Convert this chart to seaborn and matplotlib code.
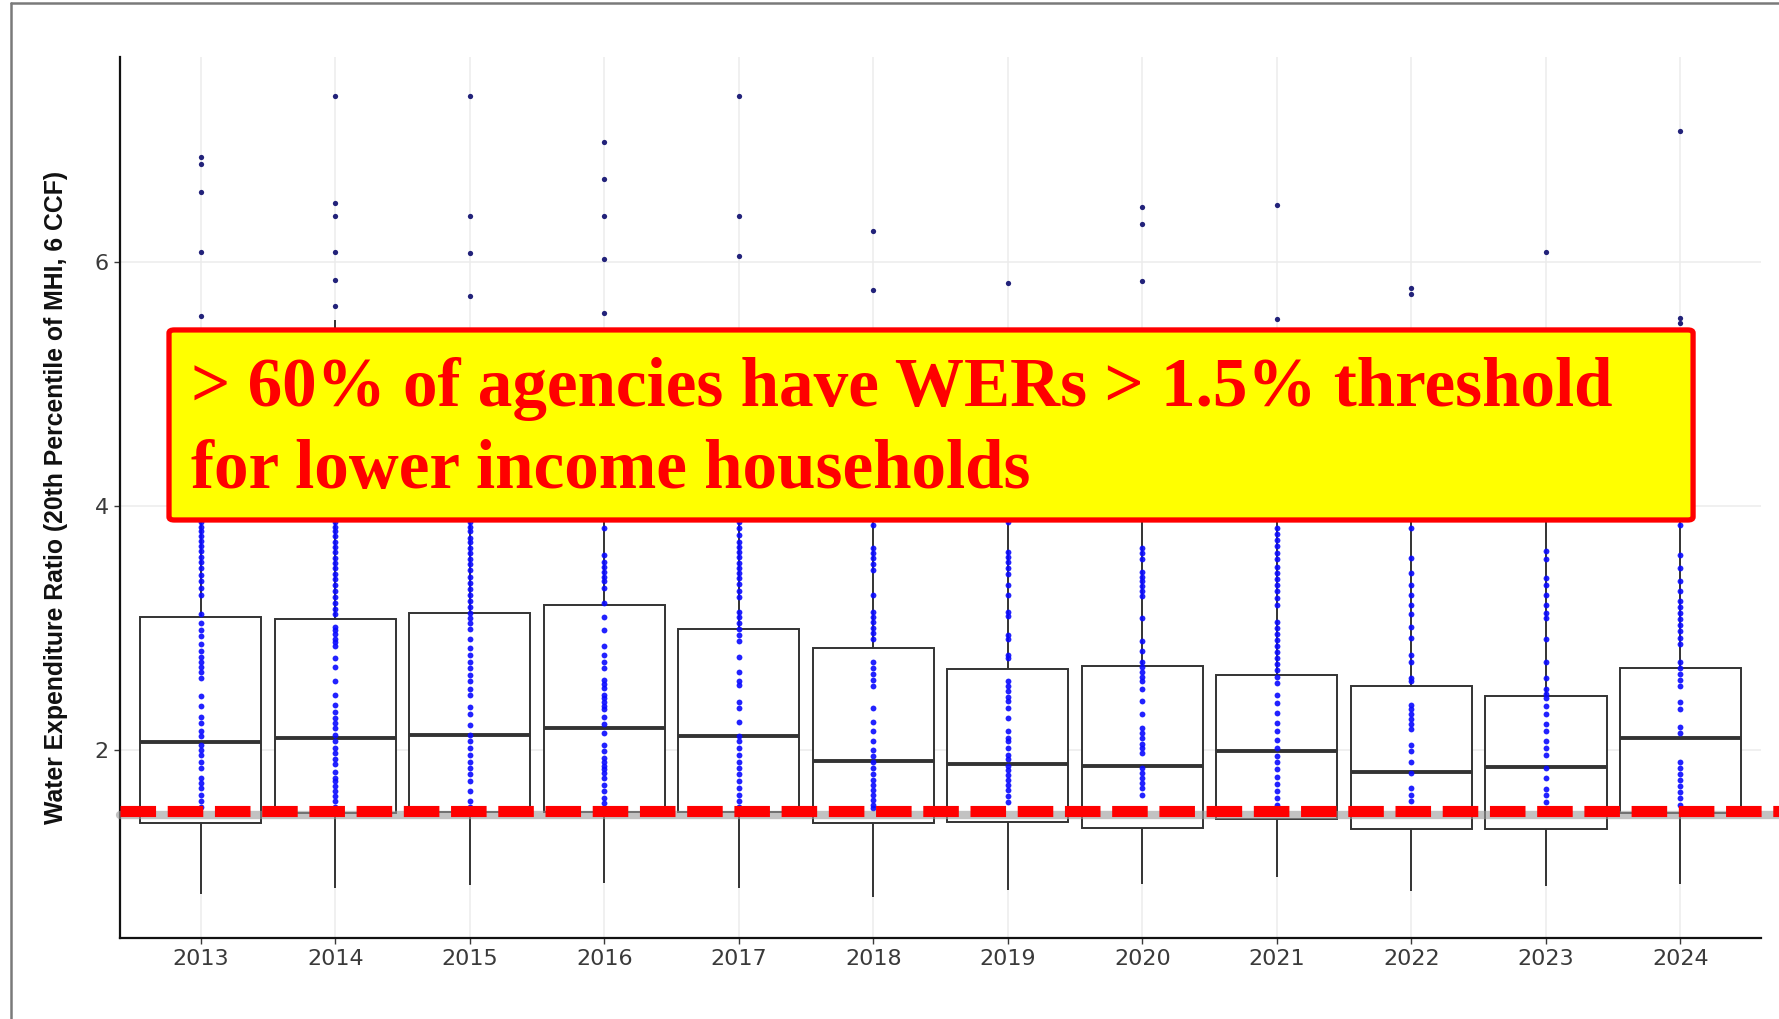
import numpy as np
import pandas as pd
import seaborn as sns
import matplotlib.pyplot as plt
from matplotlib.patches import FancyBboxPatch
from matplotlib.lines import Line2D

# five-number summaries (whiskers run to min / max)
years = [str(y) for y in range(2013, 2025)]
whisker_low = [0.82, 0.865, 0.89, 0.91, 0.865, 0.79, 0.85, 0.90, 0.96, 0.84, 0.88, 0.90]
box_low = [1.40, 1.48, 1.49, 1.49, 1.49, 1.40, 1.41, 1.36, 1.43, 1.35, 1.35, 1.48]
box_median = [2.06, 2.10, 2.12, 2.18, 2.11, 1.91, 1.88, 1.87, 1.99, 1.82, 1.86, 2.10]
box_high = [3.09, 3.07, 3.12, 3.19, 2.99, 2.83, 2.66, 2.69, 2.61, 2.52, 2.44, 2.67]
whisker_high = [5.35, 5.52, 5.40, 5.40, 5.10, 4.95, 4.60, 4.65, 4.50, 4.35, 4.20, 4.55]

# agencies above the 1.5 % threshold (blue dots), per year
pts_2013 = [6.86, 6.80, 6.57, 6.08, 5.56,
            3.87, 3.83, 3.79, 3.75, 3.71, 3.67, 3.63, 3.58, 3.54, 3.49, 3.43, 3.38, 3.33, 3.27,
            3.11, 3.04, 2.98, 2.93, 2.87, 2.81, 2.76, 2.72, 2.68, 2.64, 2.59, 2.44, 2.36, 2.27,
            2.22, 2.15, 2.11, 2.04, 2.00, 1.96, 1.90, 1.85, 1.77, 1.73, 1.69, 1.63, 1.58, 1.53]
pts_2014 = [7.36, 6.48, 6.38, 6.08, 5.85, 5.64,
            3.87, 3.83, 3.79, 3.75, 3.70, 3.66, 3.62, 3.57, 3.53, 3.49, 3.44, 3.40, 3.35, 3.30,
            3.25, 3.20, 3.15, 3.11, 3.01, 2.98, 2.95, 2.91, 2.88, 2.85, 2.75, 2.68, 2.56, 2.45,
            2.37, 2.31, 2.26, 2.22, 2.18, 2.12, 2.07, 2.01, 1.97, 1.92, 1.88, 1.82, 1.77, 1.74,
            1.70, 1.66, 1.62, 1.58, 1.53]
pts_2015 = [7.36, 6.38, 6.07, 5.72,
            3.87, 3.83, 3.79, 3.74, 3.70, 3.65, 3.61, 3.56, 3.52, 3.47, 3.42, 3.37, 3.32, 3.27,
            3.22, 3.17, 3.12, 3.08, 3.04, 2.99, 2.91, 2.83, 2.78, 2.72, 2.67, 2.61, 2.56, 2.50,
            2.45, 2.35, 2.29, 2.20, 2.12, 2.07, 2.01, 1.96, 1.90, 1.85, 1.80, 1.74, 1.66, 1.58, 1.53]
pts_2016 = [6.98, 6.68, 6.38, 6.02, 5.58,
            3.82, 3.60, 3.54, 3.50, 3.46, 3.42, 3.38, 3.33, 3.20, 3.09, 2.98, 2.85, 2.78, 2.72,
            2.67, 2.57, 2.54, 2.51, 2.45, 2.42, 2.39, 2.36, 2.33, 2.27, 2.21, 2.14, 2.04, 1.99,
            1.93, 1.90, 1.87, 1.84, 1.81, 1.77, 1.71, 1.66, 1.60, 1.56, 1.52]
pts_2017 = [7.36, 6.38, 6.05,
            3.87, 3.82, 3.76, 3.70, 3.66, 3.62, 3.58, 3.53, 3.49, 3.45, 3.41, 3.36, 3.30, 3.25,
            3.13, 3.09, 3.04, 2.99, 2.94, 2.89, 2.76, 2.64, 2.56, 2.53, 2.39, 2.34, 2.23, 2.11,
            2.07, 2.01, 1.96, 1.90, 1.85, 1.80, 1.74, 1.69, 1.63, 1.58, 1.53]
pts_2018 = [6.25, 5.77,
            3.84, 3.65, 3.61, 3.57, 3.52, 3.47, 3.27, 3.13, 3.09, 3.05, 3.00, 2.96, 2.91, 2.72,
            2.67, 2.62, 2.57, 2.52, 2.34, 2.23, 2.15, 2.07, 2.00, 1.95, 1.90, 1.85, 1.80, 1.75,
            1.71, 1.67, 1.63, 1.59, 1.55, 1.52]
pts_2019 = [5.83,
            3.87, 3.62, 3.58, 3.54, 3.49, 3.44, 3.35, 3.27, 3.13, 3.10, 2.94, 2.91, 2.78, 2.75,
            2.56, 2.52, 2.48, 2.43, 2.40, 2.34, 2.26, 2.15, 2.10, 2.07, 2.01, 1.96, 1.92, 1.87,
            1.83, 1.79, 1.75, 1.71, 1.67, 1.62, 1.57]
pts_2020 = [6.45, 6.31, 5.84,
            3.65, 3.61, 3.56, 3.46, 3.42, 3.38, 3.34, 3.30, 3.26, 3.08, 2.89, 2.81, 2.72, 2.68,
            2.64, 2.60, 2.56, 2.50, 2.40, 2.29, 2.18, 2.14, 2.10, 2.05, 2.01, 1.97, 1.85, 1.81,
            1.77, 1.73, 1.69, 1.63]
pts_2021 = [6.47, 5.53,
            3.82, 3.77, 3.72, 3.67, 3.61, 3.56, 3.50, 3.45, 3.40, 3.35, 3.30, 3.24, 3.19, 3.05,
            3.00, 2.95, 2.90, 2.85, 2.80, 2.75, 2.70, 2.65, 2.60, 2.55, 2.45, 2.38, 2.30, 2.22,
            2.15, 2.08, 2.01, 1.95, 1.90, 1.84, 1.78, 1.72, 1.66, 1.60, 1.55, 1.52]
pts_2022 = [5.79, 5.74,
            3.82, 3.57, 3.45, 3.35, 3.27, 3.19, 3.11, 3.01, 2.92, 2.78, 2.72, 2.59, 2.56, 2.37,
            2.33, 2.29, 2.25, 2.21, 2.17, 2.04, 1.99, 1.90, 1.81, 1.69, 1.63, 1.58]
pts_2023 = [6.08,
            3.63, 3.56, 3.41, 3.35, 3.27, 3.19, 3.12, 3.08, 2.91, 2.72, 2.59, 2.50, 2.46, 2.42,
            2.36, 2.29, 2.21, 2.15, 2.07, 2.01, 1.96, 1.85, 1.77, 1.68, 1.63, 1.57]
pts_2024 = [7.07, 5.54, 5.50,
            3.84, 3.60, 3.49, 3.38, 3.30, 3.22, 3.17, 3.12, 3.07, 3.02, 2.97, 2.92, 2.87, 2.72,
            2.67, 2.62, 2.57, 2.52, 2.39, 2.33, 2.19, 2.14, 1.90, 1.85, 1.80, 1.75, 1.70, 1.65,
            1.60, 1.55]
points = [pts_2013, pts_2014, pts_2015, pts_2016, pts_2017, pts_2018,
          pts_2019, pts_2020, pts_2021, pts_2022, pts_2023, pts_2024]

threshold = 1.5
y_label = 'Water Expenditure Ratio (20th Percentile of MHI, 6 CCF)'
callout = ['> 60% of agencies have WERs > 1.5% threshold', 'for lower income households']

box_df = pd.DataFrame({
    'year': np.repeat(years, 5),
    'wer': np.column_stack([whisker_low, box_low, box_median, box_high, whisker_high]).ravel(),
})
pts_df = pd.concat([pd.DataFrame({'year': y, 'wer': p}) for y, p in zip(years, points)],
                   ignore_index=True)
top = dict(zip(years, whisker_high))
pts_df['outlier'] = pts_df['wer'] > pts_df['year'].map(top)

sns.set_theme(style='white')
plt.rcParams['font.family'] = ['DejaVu Sans']

fig = plt.figure(figsize=(17.79, 10.19), dpi=100)
ax = fig.add_axes([0.0675, 0.0795, 0.9225, 0.8645])

sns.boxplot(data=box_df, x='year', y='wer', order=years, whis=(0, 100), width=0.9,
            color='white', linecolor='#333333', linewidth=1.4, showcaps=False,
            medianprops=dict(linewidth=2.8, color='#333333'), ax=ax, zorder=2)
sns.stripplot(data=pts_df[~pts_df.outlier], x='year', y='wer', order=years, jitter=False,
              color='#0a0aff', size=4.2, linewidth=0, alpha=0.9, ax=ax, zorder=3)
sns.stripplot(data=pts_df[pts_df.outlier], x='year', y='wer', order=years, jitter=False,
              color='#22227a', size=3.8, linewidth=0, ax=ax, zorder=3)

ax.axhline(threshold - 0.035, xmin=0, xmax=1.02, color='#9a9a9a', lw=6, alpha=0.6,
           clip_on=False, zorder=4)
ax.axhline(threshold, xmin=0, xmax=1.02, color='red', lw=8, dashes=(3.2, 1.05),
           clip_on=False, zorder=5)

ax.set_xlim(-0.6, 11.6)
ax.set_ylim(0.456, 7.68)
ax.set_yticks([2, 4, 6])
ax.set_xlabel('')
ax.set_ylabel(y_label, fontsize=17.8, family=['Liberation Sans', 'DejaVu Sans'],
              fontweight='bold', color='#111111', labelpad=19)
ax.grid(True, color='#ececec', lw=1.1)
ax.set_axisbelow(True)
for s in ['top', 'right']:
    ax.spines[s].set_visible(False)
for s in ['left', 'bottom']:
    ax.spines[s].set_color('#111111')
    ax.spines[s].set_linewidth(1.6)
ax.tick_params(axis='both', labelsize=16, colors='#3a3a3a', length=4, width=1, pad=4,
               left=True, bottom=True)

# callout box
fig.add_artist(FancyBboxPatch((0.095, 0.4897), 0.8567, 0.1865,
                              boxstyle='round,pad=0,rounding_size=0.003',
                              transform=fig.transFigure, fc='#ffff00', ec='#ff0000',
                              lw=3.8, zorder=10))
fig.text(0.1074, 1 - 406 / 1019, callout[0], fontsize=49.8, family='Liberation Serif',
         fontweight='bold', color='#ff0000', va='baseline', zorder=11)
fig.text(0.1074, 1 - 488 / 1019, callout[1], fontsize=49.8, family='Liberation Serif',
         fontweight='bold', color='#ff0000', va='baseline', zorder=11)

# slide frame
fig.add_artist(Line2D([0.0062, 0.0062], [0, 0.9966], color='#7a7a7a', lw=1.8))
fig.add_artist(Line2D([0.0062, 1], [0.9966, 0.9966], color='#7a7a7a', lw=1.8))

fig.savefig('out.png', dpi=100)
